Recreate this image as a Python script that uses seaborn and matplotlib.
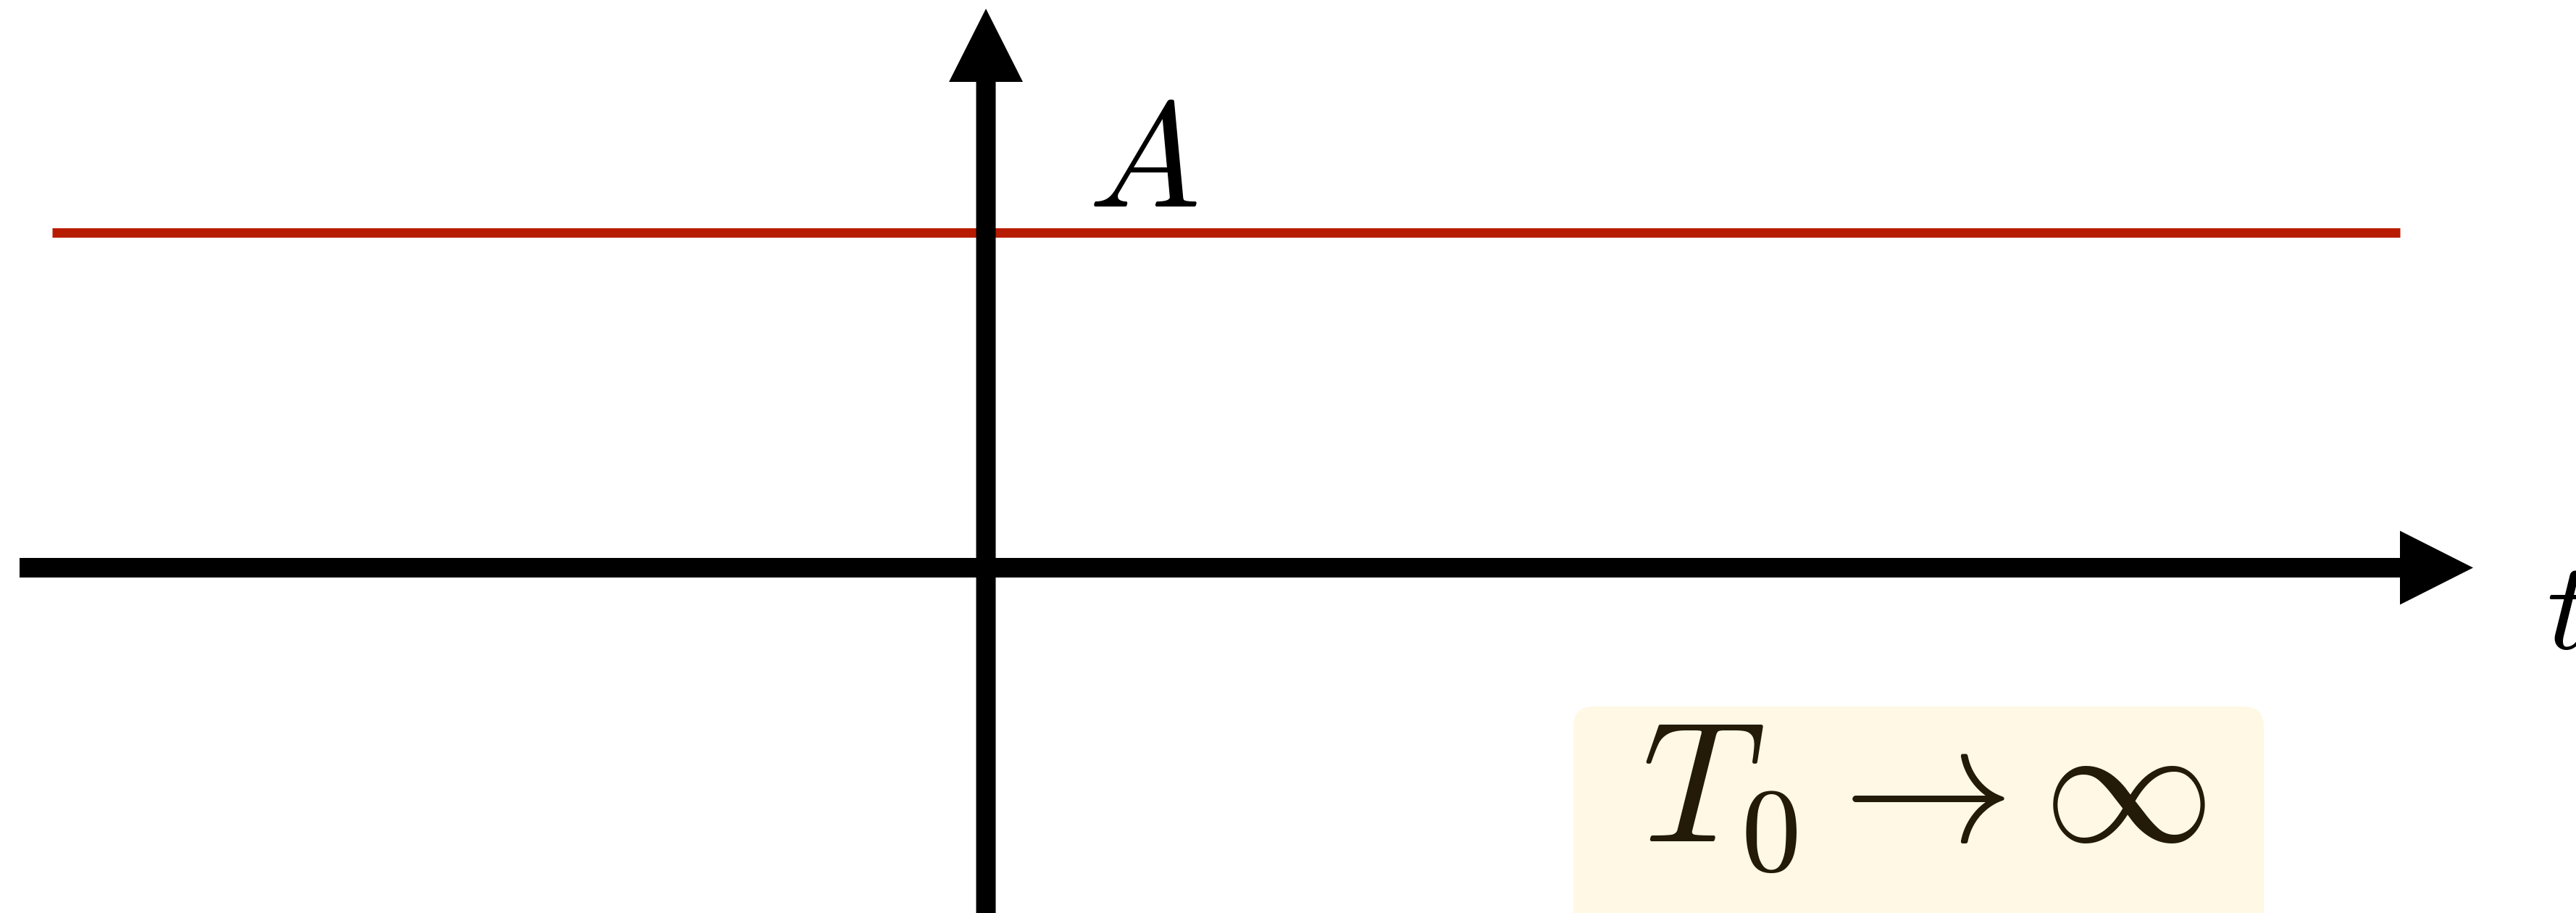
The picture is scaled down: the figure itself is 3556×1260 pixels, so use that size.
import numpy as np
import pandas as pd
import matplotlib
matplotlib.use("Agg")
import matplotlib.pyplot as plt
from matplotlib.patches import FancyBboxPatch
import seaborn as sns

# ---- data (in units where A = 1) ----
t_values = [-2.79, 4.225]      # extent of the constant signal
signal_values = [1.0, 1.0]     # x(t) = A
signal_label = "$A$"
axis_label = "$t$"
box_label = r"$T_0 \to \infty$"

sns.set_theme(style="white")
plt.rcParams["mathtext.fontset"] = "cm"
plt.rcParams["font.family"] = ["DejaVu Sans"]

W, H, DPI = 3556, 1260, 100
PX = 462.0                      # pixels per data unit
OX, OY = 1361.0, 783.5          # origin in pixels (from top-left)

fig = plt.figure(figsize=(W / DPI, H / DPI), dpi=DPI)
ax = fig.add_axes([0, 0, 1, 1])

def px(v):
    return v / PX

shaft = px(27)
head_w = px(102)
head_l = px(101)

# horizontal axis
x0 = (27 - OX) / PX
x1 = (3414 - OX) / PX
ax.arrow(x0, 0, x1 - x0, 0, width=shaft, head_width=head_w, head_length=head_l,
         length_includes_head=True, color="black", linewidth=0, zorder=3)
# vertical axis
y0 = -(1300 - OY) / PX
y1 = (OY - 12) / PX
ax.arrow(0, y0, 0, y1 - y0, width=shaft, head_width=head_w, head_length=head_l,
         length_includes_head=True, color="black", linewidth=0, zorder=3)

# constant signal
df = pd.DataFrame({"t": t_values, "x": signal_values})
sns.lineplot(data=df, x="t", y="x", ax=ax, color="#B81C00",
             linewidth=13 / DPI * 72, solid_capstyle="butt", zorder=2)
ax.set_xlim(-OX / PX, (W - OX) / PX)
ax.set_ylim(-(H - OY) / PX, OY / PX)
ax.set_axis_off()

ax.text((1502 - OX) / PX, (OY - 285) / PX, signal_label, fontsize=148,
        ha="left", va="baseline", color="black")
ax.text((3515 - OX) / PX, (OY - 895) / PX, axis_label, fontsize=123,
        ha="left", va="baseline", color="black")

# annotation box
bx0 = (2172 - OX) / PX
bx1 = (3125 - OX) / PX
by_top = (OY - 975) / PX
by_bot = -(1400 - OY) / PX
r = px(28)
box = FancyBboxPatch((bx0 + r, by_bot + r), (bx1 - bx0) - 2 * r, (by_top - by_bot) - 2 * r,
                     boxstyle=f"round,pad={r}", facecolor="#FEF8E5", edgecolor="none",
                     zorder=1)
ax.add_patch(box)
ax.text((2266 - OX) / PX, (OY - 1162) / PX, box_label, fontsize=170,
        ha="left", va="baseline", color="#231A07", zorder=4)

fig.savefig("out.png", dpi=DPI)
